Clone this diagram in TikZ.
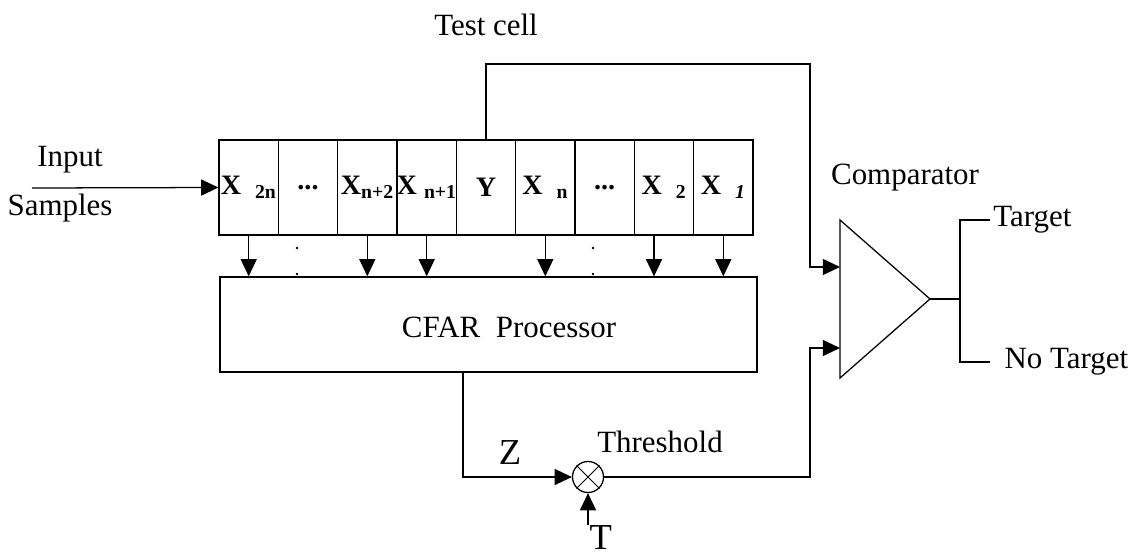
\documentclass[tikz,border=0pt]{standalone}
\usepackage{fontspec}
\setmainfont{Liberation Serif}
\usetikzlibrary{positioning, calc, arrows.meta}

\begin{document}
\begin{tikzpicture}[
    x=0.025cm, y=-0.025cm,
    line width=0.9pt,
    cell/.style={rectangle, draw, line width=0.9pt, minimum width=1.483cm,
                 minimum height=2.375cm, inner sep=0pt,
                 font=\fontsize{20}{22}\selectfont\bfseries},
    proc/.style={rectangle, draw, line width=0.9pt, minimum width=13.425cm,
                 minimum height=2.375cm},
    lbl/.style={font=\fontsize{22}{24}\selectfont},
    big/.style={font=\fontsize{26}{28}\selectfont},
    sig/.style={-{Triangle[length=4.3mm, width=4mm]}, line width=0.9pt},
  ]
    \useasboundingbox (0,0) rectangle (1144,559);

    % Shift register
    \node[cell] (x2n)   at (248.7,187.5) {X\enspace\textsubscript{2n}};
    \node[cell] (dotsL) at (308.0,187.5) {...};
    \node[cell] (xn2)   at (367.3,187.5) {X\textsubscript{n+2}};
    \node[cell] (xn1)   at (426.7,187.5) {X\hspace{0.25em}\textsubscript{n+1}};
    \node[cell] (ycell) at (486.0,187.5) {Y};
    \node[cell] (xn)    at (545.3,187.5) {X\enspace\textsubscript{n}};
    \node[cell] (dotsR) at (604.7,187.5) {...};
    \node[cell] (x2)    at (664.0,187.5) {X\enspace\textsubscript{2}};
    \node[cell] (x1)    at (723.3,187.5) {X\enspace\textsubscript{\itshape 1}};

    % Input
    \coordinate (in) at (32,188);
    \node[lbl] (inlbl) at (70,160) {Input};
    \node[lbl] (samplbl) at (60,208) {Samples};
    \draw[sig] (in) -- (x2n.west);

    % CFAR processor
    \node[proc] (cfar) at (488.5,324.5) {};
    \node[lbl] (cfarlbl) at (509,327) {CFAR\ \ Processor};
    \draw[sig] (x2n.south) -- (x2n.south |- cfar.north);
    \draw[sig] (xn2.south) -- (xn2.south |- cfar.north);
    \draw[sig] (xn1.south) -- (xn1.south |- cfar.north);
    \draw[sig] (xn.south) -- (xn.south |- cfar.north);
    \draw[sig] ([xshift=-0.25cm]x2.south) -- ([xshift=-0.25cm]x2.south |- cfar.north);
    \draw[sig] (x1.south) -- (x1.south |- cfar.north);
    \fill (297,248) circle (1pt) (297,274) circle (1pt);
    \fill (593,248) circle (1pt) (593,274) circle (1pt);

    % Comparator
    \coordinate (cmpA) at (840,220);
    \coordinate (cmpB) at (840,378);
    \coordinate (cmpO) at (930,299);
    \coordinate (cin1) at (840,267);
    \coordinate (cin2) at (840,348);
    \draw (cmpA) -- (cmpO) -- (cmpB) -- cycle;
    \node[lbl] (cmplbl) at (905,178) {Comparator};

    % Test cell
    \node[lbl] (testlbl) at (486,25) {Test cell};
    \coordinate (tc) at (810,64);
    \draw[sig] (ycell.north) |- (tc) |- (cin1);

    % Threshold multiplier
    \node[circle, draw, line width=0.9pt, minimum size=0.775cm, inner sep=0pt] (mul) at (588,477) {};
    \draw[line width=0.7pt] (mul.north east) -- (mul.south west)
                            (mul.north west) -- (mul.south east);
    \draw[sig] ([xshift=-0.64cm]cfar.south) |- (mul.west);
    \node[big] (zlbl) at (510,453) {Z};
    \node[lbl] (thrlbl) at (660,442) {Threshold};
    \coordinate (tb) at (810,477);
    \draw[sig] (mul.east) -- (tb) |- (cin2);
    \node[big, anchor=north west, inner sep=0pt] (tin) at (589,525) {T};
    \draw[sig] (mul.south |- tin.north) -- (mul.south);

    % Outputs
    \coordinate (fork) at (960,299);
    \coordinate (ntend) at (990,362);
    \node[lbl, anchor=west, inner sep=2pt] (tgt) at (990,220) {Target};
    \node[lbl, right=0.35cm of ntend, inner sep=0pt] (notgt) {No Target};
    \draw (cmpO) -- (fork) |- (tgt.west);
    \draw (fork) |- (ntend);
  \end{tikzpicture}
\end{document}
